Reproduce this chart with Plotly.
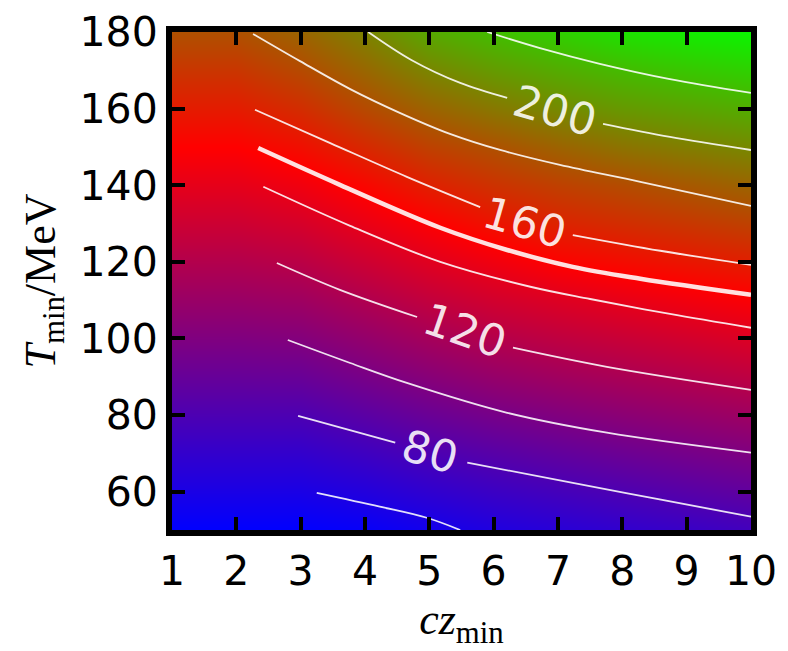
import plotly.graph_objects as go

# ---- background field (z = upper temperature, MeV) on a cz_min x T_min grid ----
cz_grid = [1, 2, 3, 4, 5, 6, 7, 8, 9, 10]
T_grid = [50, 60, 70, 80, 90, 100, 110, 120, 130, 140, 150, 160, 170, 180]
z_grid = [
    [50, 50, 50.0, 52.5, 57.4, 62.2, 65.6, 69.0, 72.1, 75.8],
    [60, 60, 60.0, 63.5, 68.6, 73.1, 76.7, 80.2, 84.1, 87.8],
    [70, 70, 70.0, 74.5, 79.8, 84.4, 88.4, 92.3, 96.0, 99.8],
    [80, 80, 80.1, 85.6, 91.4, 96.4, 100.4, 104.4, 108.2, 112.0],
    [90, 90, 90.9, 96.9, 103.0, 108.6, 112.9, 116.6, 120.4, 124.2],
    [100, 100, 101.6, 108.0, 114.7, 120.8, 125.0, 128.7, 132.6, 136.5],
    [110, 110, 112.2, 119.0, 126.2, 132.3, 136.7, 140.9, 144.9, 148.4],
    [120, 120, 122.9, 130.3, 137.8, 144.2, 150.4, 154.2, 157.9, 161.3],
    [130, 130, 133.7, 141.5, 148.9, 156.8, 162.7, 166.5, 170.2, 174.1],
    [140, 140, 144.4, 152.3, 161.8, 168.6, 173.9, 178.2, 182.8, 187.3],
    [150, 150, 155.4, 164.9, 174.1, 180.1, 186.7, 192.8, 197.0, 200.9],
    [160, 160, 166.6, 177.2, 186.8, 194.4, 201.0, 206.7, 210.6, 214.5],
    [170, 170, 177.5, 188.2, 199.8, 207.8, 214.0, 219.6, 224.1, 227.9],
    [180, 180, 187.4, 198.9, 212.7, 220.5, 227.2, 233.9, 237.9, 241.0],
]

# ---- contour lines (cz_min, T_min); None = label gap ----
lvl_220_cz = [5.90, 6.72, 7.65, 8.74, 10.0]
lvl_220_T = [180.0, 175.8, 171.7, 167.7, 164.1]
lvl_200_cz = [4.05, 4.72, 5.48, 6.21, None, 7.70, 8.74, 10.0]
lvl_200_T = [180.0, 172.7, 166.7, 162.8, None, 156.0, 152.6, 149.2]
lvl_180_cz = [2.26, 2.99, 3.77, 4.54, 5.32, 6.10, 7.03, 8.28, 10.0]
lvl_180_T = [179.5, 172.4, 165.1, 158.9, 153.4, 149.2, 145.3, 140.9, 134.6]
lvl_160_cz = [2.29, 3.46, 4.65, 5.79, None, 7.23, 8.59, 10.0]
lvl_160_T = [159.7, 151.0, 142.2, 134.3, None, 127.0, 122.9, 119.2]
lvl_150_cz = [2.34, 3.61, 5.17, 6.21, 7.23, 8.28, 10.0]
lvl_150_T = [149.7, 140.1, 128.9, 123.1, 118.7, 115.6, 111.4]
lvl_140_cz = [2.42, 3.77, 5.17, 6.57, 7.50, 8.74, 10.0]
lvl_140_T = [139.6, 129.4, 120.0, 113.5, 110.3, 106.4, 102.8]
lvl_120_cz = [2.63, 3.61, 4.81, None, 6.30, 7.76, 10.0]
lvl_120_T = [119.7, 112.7, 105.6, None, 97.6, 92.6, 86.6]
lvl_100_cz = [2.80, 3.77, 4.65, 6.21, 7.76, 10.0]
lvl_100_T = [99.6, 93.6, 88.4, 80.6, 75.4, 70.2]
lvl_80_cz = [2.96, 4.47, None, 5.59, 7.23, 8.60, 10.0]
lvl_80_T = [79.8, 72.8, None, 67.6, 62.3, 57.9, 53.5]
lvl_60_cz = [3.25, 4.23, 4.96, 5.48]
lvl_60_T = [59.7, 56.1, 53.2, 50.0]

# ---- inline contour labels ----
label_text = ["200", "160", "120", "80"]
label_cz = [6.95, 6.49, 5.55, 5.01]
label_T = [159.4, 130.4, 102.0, 70.4]
label_angle = [16, 16, 19, 16]

x_ticks = [1, 2, 3, 4, 5, 6, 7, 8, 9, 10]
y_ticks = [60, 80, 100, 120, 140, 160, 180]

fig = go.Figure()
fig.add_trace(go.Heatmap(
    x=cz_grid, y=T_grid, z=z_grid, zsmooth="best",
    colorscale=[[0.0, "rgb(0,0,255)"], [(150 - 50) / (245 - 50), "rgb(255,0,0)"], [1.0, "rgb(0,255,0)"]],
    zmin=50, zmax=245, showscale=False, hoverinfo="skip"))

lines = [
    (lvl_220_cz, lvl_220_T, 1.8), (lvl_200_cz, lvl_200_T, 1.8), (lvl_180_cz, lvl_180_T, 1.8),
    (lvl_160_cz, lvl_160_T, 1.8), (lvl_150_cz, lvl_150_T, 4.5), (lvl_140_cz, lvl_140_T, 1.8),
    (lvl_120_cz, lvl_120_T, 1.8), (lvl_100_cz, lvl_100_T, 1.8), (lvl_80_cz, lvl_80_T, 1.8),
    (lvl_60_cz, lvl_60_T, 1.8),
]
for cx, cy, w in lines:
    fig.add_trace(go.Scatter(
        x=cx, y=cy, mode="lines", connectgaps=False, showlegend=False, hoverinfo="skip",
        line=dict(color="rgba(255,255,255,0.88)", width=w, shape="spline", smoothing=1.0)))

for t, cx, cy, a in zip(label_text, label_cz, label_T, label_angle):
    fig.add_annotation(x=cx, y=cy, text=t, showarrow=False, textangle=a,
                       xanchor="center", yanchor="middle",
                       font=dict(family="DejaVu Sans", size=44, color="rgba(255,255,255,0.88)"))

axis_common = dict(
    showgrid=False, zeroline=False, showline=True, linecolor="black", linewidth=6,
    mirror="allticks", ticks="inside", ticklen=13, tickwidth=4, tickcolor="black",
    tickfont=dict(family="DejaVu Sans", size=41, color="black"), automargin=False,
)
fig.update_xaxes(range=[1, 10], tickvals=x_ticks, ticktext=[str(v) for v in x_ticks],
                 title=dict(text="<i>cz</i><sub>min</sub>", standoff=8,
                            font=dict(family="Liberation Serif", size=44, color="black")),
                 **axis_common)
fig.update_yaxes(range=[50, 180], tickvals=y_ticks, ticktext=[str(v) for v in y_ticks],
                 title=dict(text="<i>T</i><sub>min</sub>/MeV", standoff=12,
                            font=dict(family="Liberation Serif", size=44, color="black")),
                 **axis_common)
# the page body adds an 8 px offset, so the figure is 8 px smaller and shifted
fig.update_layout(
    width=780, height=643, margin=dict(l=164, r=37, t=24, b=121),
    paper_bgcolor="white", plot_bgcolor="white", showlegend=False,
)
fig.write_html("out.html")
